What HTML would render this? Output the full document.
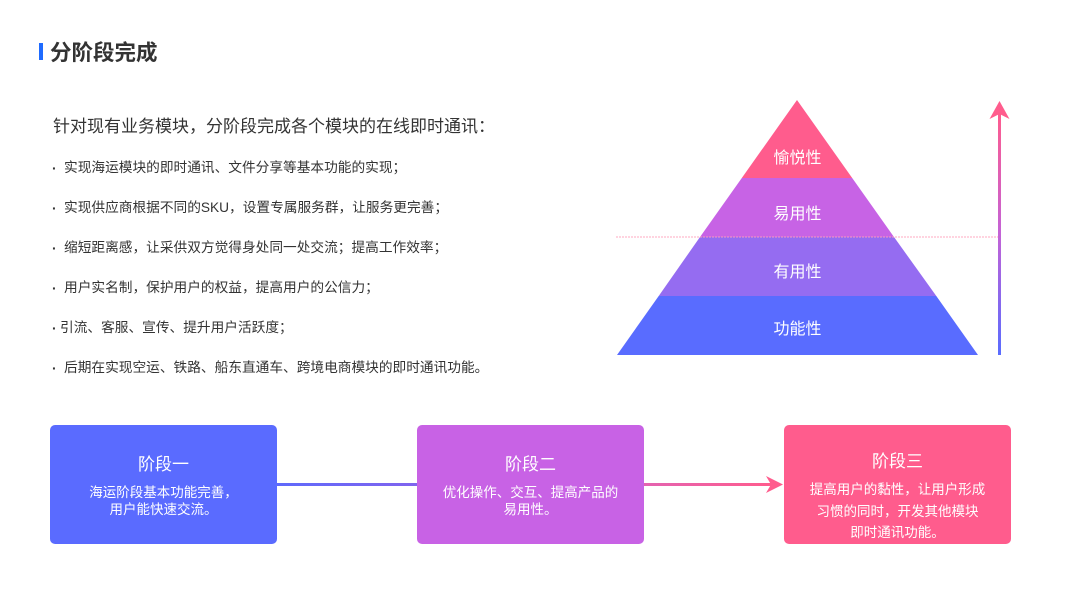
<!DOCTYPE html>
<html>
<head>
<meta charset="utf-8">
<style>
  html,body{margin:0;padding:0;}
  body{width:1067px;height:600px;position:relative;overflow:hidden;background:#fff;
    font-family:"Liberation Sans","Noto Sans CJK SC",sans-serif;color:#333;}
  .abs{position:absolute;white-space:nowrap;}
  .bar{position:absolute;left:39px;top:43px;width:4px;height:17px;background:#1f6bff;}
  .title{left:50px;top:39px;font-size:21.5px;line-height:28px;font-weight:bold;color:#333;}
  .sub{left:53px;top:115px;font-size:17px;line-height:24px;color:#333;}
  .b{font-size:13.7px;line-height:20px;color:#333;}
  .dot{font-size:14px;line-height:20px;color:#333;font-weight:bold;}
  .box{position:absolute;top:425px;width:227px;height:119px;border-radius:5px;color:#fff;text-align:center;}
  .box .h{position:absolute;left:0;width:100%;font-size:17px;line-height:22px;}
  .box .t{position:absolute;left:0;width:100%;font-size:13.5px;line-height:17px;}
  .plab{position:absolute;width:120px;text-align:center;color:#fff;font-size:16px;line-height:22px;}
</style>
</head>
<body>
<div class="bar"></div>
<div class="abs title">分阶段完成</div>
<div class="abs sub">针对现有业务模块，分阶段完成各个模块的在线即时通讯：</div>

<div class="abs dot" style="left:52px;top:158px;">·</div>
<div class="abs b" style="left:64px;top:158px;">实现海运模块的即时通讯、文件分享等基本功能的实现；</div>
<div class="abs dot" style="left:52px;top:198px;">·</div>
<div class="abs b" style="left:64px;top:198px;">实现供应商根据不同的SKU，设置专属服务群，让服务更完善；</div>
<div class="abs dot" style="left:52px;top:238px;">·</div>
<div class="abs b" style="left:64px;top:238px;">缩短距离感，让采供双方觉得身处同一处交流；提高工作效率；</div>
<div class="abs dot" style="left:52px;top:278px;">·</div>
<div class="abs b" style="left:64px;top:278px;">用户实名制，保护用户的权益，提高用户的公信力；</div>
<div class="abs dot" style="left:52px;top:318px;">·</div>
<div class="abs b" style="left:60px;top:318px;">引流、客服、宣传、提升用户活跃度；</div>
<div class="abs dot" style="left:52px;top:358px;">·</div>
<div class="abs b" style="left:64px;top:358px;">后期在实现空运、铁路、船东直通车、跨境电商模块的即时通讯功能。</div>

<svg class="abs" style="left:0;top:0;" width="1067" height="600" viewBox="0 0 1067 600">
  <defs>
    <linearGradient id="vg" x1="0" y1="0" x2="0" y2="1">
      <stop offset="0" stop-color="#ff5c8d"/>
      <stop offset="0.5" stop-color="#c463d6"/>
      <stop offset="1" stop-color="#596cff"/>
    </linearGradient>
    <linearGradient id="h1" x1="0" y1="0" x2="1" y2="0">
      <stop offset="0" stop-color="#5f69fb"/>
      <stop offset="1" stop-color="#8064ee"/>
    </linearGradient>
    <linearGradient id="h2" x1="0" y1="0" x2="1" y2="0">
      <stop offset="0" stop-color="#e463b0"/>
      <stop offset="1" stop-color="#ff5c8d"/>
    </linearGradient>
  </defs>
  <!-- pyramid -->
  <polygon points="797,100 852.2,178 741.8,178" fill="#ff5c8d"/>
  <polygon points="741.8,178 852.2,178 894,237 700,237" fill="#c763e5"/>
  <polygon points="700,237 894,237 936.3,296 658.7,296" fill="#956cf1"/>
  <polygon points="658.7,296 936.3,296 978,355 617,355" fill="#596cff"/>
  <line x1="616" y1="237" x2="998" y2="237" stroke="#ff9fbb" stroke-width="1" stroke-dasharray="2 1" opacity="0.9"/>
  <!-- vertical arrow -->
  <rect x="998" y="112" width="3" height="243" fill="url(#vg)"/>
  <polygon points="999.5,101 1009.5,119 999.5,114 989.5,119" fill="#ff5c8d"/>
  <!-- connectors -->
  <rect x="277" y="483" width="140" height="3" fill="url(#h1)"/>
  <rect x="644" y="483" width="128" height="3" fill="url(#h2)"/>
  <polygon points="783,484.5 766,476 771,484.5 766,493" fill="#ff5c8d"/>
</svg>

<div class="plab" style="left:737.5px;top:148px;">愉悦性</div>
<div class="plab" style="left:737.5px;top:204px;">易用性</div>
<div class="plab" style="left:737.5px;top:262px;">有用性</div>
<div class="plab" style="left:737.5px;top:319px;">功能性</div>

<div class="box" style="left:50px;background:#5a6bff;">
  <div class="h" style="top:29px;">阶段一</div>
  <div class="t" style="top:59px;">海运阶段基本功能完善，</div>
  <div class="t" style="top:76px;">用户能快速交流。</div>
</div>
<div class="box" style="left:417px;background:#c862e5;">
  <div class="h" style="top:29px;">阶段二</div>
  <div class="t" style="top:59px;">优化操作、交互、提高产品的</div>
  <div class="t" style="top:76px;">易用性。</div>
</div>
<div class="box" style="left:784px;background:#ff5c8d;">
  <div class="h" style="top:26px;">阶段三</div>
  <div class="t" style="top:56px;">提高用户的黏性，让用户形成</div>
  <div class="t" style="top:78px;">习惯的同时，开发其他模块</div>
  <div class="t" style="top:99px;">即时通讯功能。</div>
</div>
</body>
</html>
